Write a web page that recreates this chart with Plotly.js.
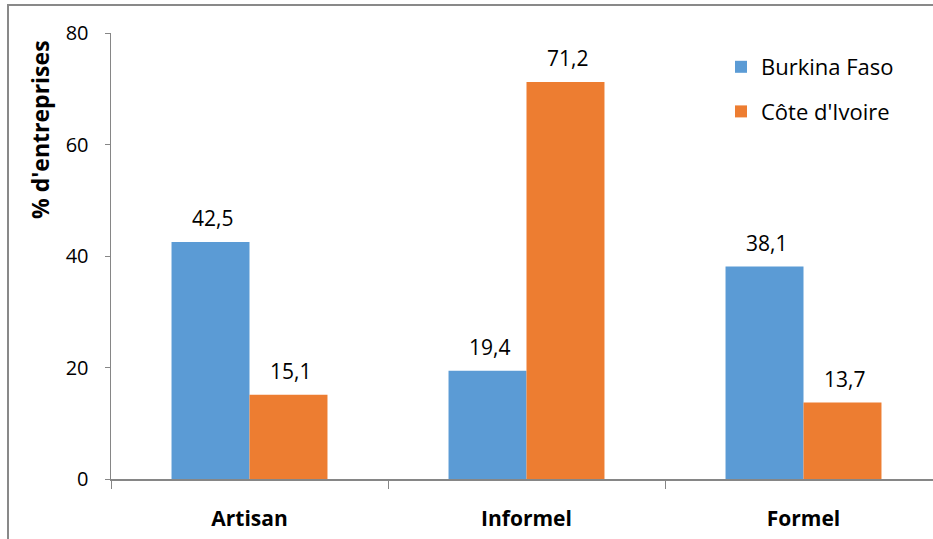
<!DOCTYPE html>
<html><head><meta charset="utf-8">
<script src="https://cdn.plot.ly/plotly-3.0.1.min.js"></script>
<style>html,body{margin:0;padding:0;background:#fff;overflow:hidden}</style>
</head><body><div id="chart" style="width:933px;height:539px"></div>
<script>
const categories = ["Artisan", "Informel", "Formel"];
const seriesNames = ["Burkina Faso", "Côte d'Ivoire"];
const burkina = [42.5, 19.4, 38.1];
const coteIvoire = [15.1, 71.2, 13.7];
const yTicks = [0, 20, 40, 60, 80];

const colors = ["#5B9BD5", "#ED7D31"];
const FONT = "'Open Sans', Lato, sans-serif";
const L = 111, T = 33, W = 933, H = 539, B = 60;
const plotW = W - L, plotH = H - T - B;
const catW = 277; // pixel width per category in reference
const xMax = -0.5 + plotW / catW;

const series = [burkina, coteIvoire];
const traces = series.map((vals, i) => ({
  type: 'bar', name: seriesNames[i], x: categories, y: vals,
  marker: {color: colors[i]}, legendgroup: 'g' + i,
  hoverinfo: 'x+y'
}));

const barW = catW * (1 - 0.437) / 2;
const annotations = [];
series.forEach((vals, i) => {
  vals.forEach((v, j) => {
    annotations.push({
      x: categories[j], y: v, xref: 'x', yref: 'y',
      xshift: (i === 0 ? -1 : 1) * barW / 2 + 2, yshift: 24,
      text: v.toFixed(1).replace('.', ','), showarrow: false,
      font: {family: FONT, size: 21, color: '#000'}
    });
  });
});
annotations.push({
  xref: 'paper', yref: 'paper', xanchor: 'center', yanchor: 'middle',
  x: (40 - L) / plotW, y: 1 + (T - 130) / plotH,
  text: "% d'entreprises", textangle: -90, showarrow: false,
  font: {family: FONT, size: 23, color: '#000', weight: 'bold'}
});

const xl = (8 - L) / plotW, yt = 1 + (T - 5) / plotH;
const layout = {
  width: W, height: H,
  margin: {l: L, r: 0, t: T, b: B, pad: 0},
  paper_bgcolor: '#fff', plot_bgcolor: '#fff',
  barmode: 'group', bargap: 0.437, bargroupgap: 0,
  showlegend: true,
  legend: {x: (721 - L) / plotW, y: 1 + (T - 46) / plotH, xanchor: 'left', yanchor: 'top',
    font: {family: FONT, size: 22, color: '#000'}, tracegroupgap: 13, bgcolor: 'rgba(0,0,0,0)'},
  xaxis: {range: [-0.5, xMax], showline: true, linecolor: '#868686', linewidth: 1.5,
    ticks: 'outside', tickson: 'boundaries', ticklen: 8, tickcolor: '#868686', ticklabelstandoff: 20,
    tickfont: {family: FONT, size: 21, color: '#000', weight: 'bold'},
    showgrid: false, zeroline: false, fixedrange: true},
  yaxis: {range: [0, 80], tickvals: yTicks, showline: true, linecolor: '#868686', linewidth: 1.5,
    ticks: 'outside', ticklen: 5, tickcolor: '#868686', ticklabelstandoff: 12,
    tickfont: {family: FONT, size: 20, color: '#000'},
    showgrid: false, zeroline: false, fixedrange: true},
  annotations: annotations,
  shapes: [{type: 'path', xref: 'paper', yref: 'paper',
    path: `M ${xl} -0.5 L ${xl} ${yt} L 1.2 ${yt}`,
    line: {color: '#898989', width: 2}}]
};
Plotly.newPlot('chart', traces, layout, {displayModeBar: false, staticPlot: true});
</script></body></html>
